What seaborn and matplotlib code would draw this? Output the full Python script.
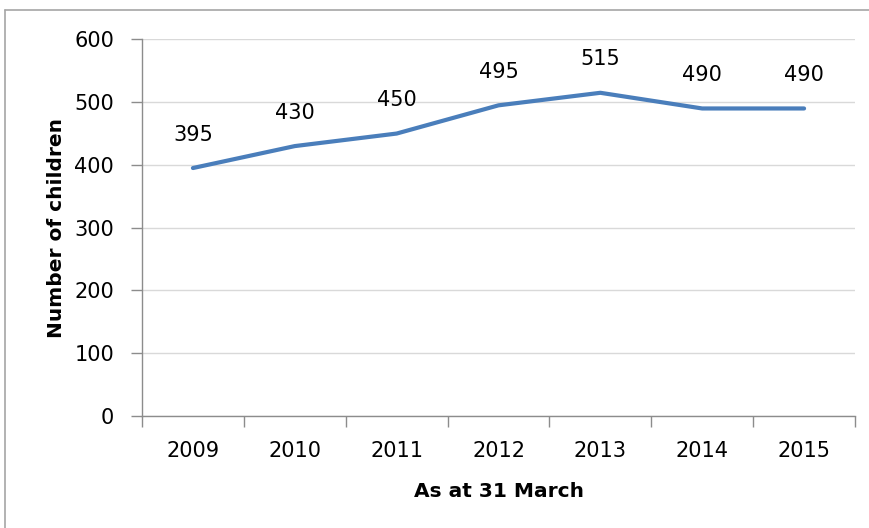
import matplotlib
matplotlib.use("Agg")
import matplotlib.pyplot as plt
import seaborn as sns
import pandas as pd
from matplotlib.lines import Line2D
from matplotlib.ticker import FixedLocator

years = ["2009", "2010", "2011", "2012", "2013", "2014", "2015"]
children = [395, 430, 450, 495, 515, 490, 490]
y_ticks = [0, 100, 200, 300, 400, 500, 600]

df = pd.DataFrame({"year": years, "children": children})

sns.set_style("white")
plt.rcParams["font.family"] = ["DejaVu Sans"]
plt.rcParams["text.color"] = "black"
plt.rcParams["axes.labelcolor"] = "black"
plt.rcParams["xtick.labelcolor"] = "black"
plt.rcParams["ytick.labelcolor"] = "black"

fig = plt.figure(figsize=(8.7, 5.28), dpi=100)
ax = fig.add_axes([142/870, 1-415.7/528, 713/870, (415.7-39.5)/528])

sns.lineplot(data=df, x="year", y="children", ax=ax, color="#4A7EBB",
             linewidth=3, sort=False)

for i, v in enumerate(df["children"]):
    ax.annotate(f"{v}", (i, v), xytext=(0, 24), textcoords="offset points",
                ha="center", va="center", fontsize=15, color="black")

ax.set_xlim(-0.5, len(years) - 0.5)
ax.set_ylim(0, 600)
ax.set_yticks(y_ticks)
ax.set_yticklabels([str(t) for t in y_ticks], fontsize=15)
ax.set_xticks(range(len(years)))
ax.set_xticklabels(years, fontsize=15)
ax.xaxis.set_minor_locator(FixedLocator([i - 0.5 for i in range(len(years) + 1)]))
ax.tick_params(axis="x", which="major", length=0, pad=18)
ax.tick_params(axis="x", which="minor", length=8, width=1, color="#8C8C8C", direction="out", bottom=True)
ax.tick_params(axis="y", length=8, width=1, color="#8C8C8C", direction="out", pad=12, left=True)

ax.grid(axis="y", color="#D9D9D9", linewidth=1)
ax.set_axisbelow(True)
for s in ["top", "right"]:
    ax.spines[s].set_visible(False)
for s in ["left", "bottom"]:
    ax.spines[s].set_color("#8C8C8C")
    ax.spines[s].set_linewidth(1)

ax.set_ylabel("Number of children", fontsize=14.5, fontweight="bold")
ax.set_xlabel("As at 31 March", fontsize=14.5, fontweight="bold")
ax.yaxis.set_label_coords(-0.107, 0.5)
ax.xaxis.set_label_coords(0.5, -0.176)

fig.add_artist(Line2D([5/870, 5/870], [1-10/528, -0.1], transform=fig.transFigure,
                      color="#A6A6A6", linewidth=1.2))
fig.add_artist(Line2D([5/870, 1.1], [1-10/528, 1-10/528], transform=fig.transFigure,
                      color="#A6A6A6", linewidth=1.2))

fig.savefig("out.png", dpi=100)
